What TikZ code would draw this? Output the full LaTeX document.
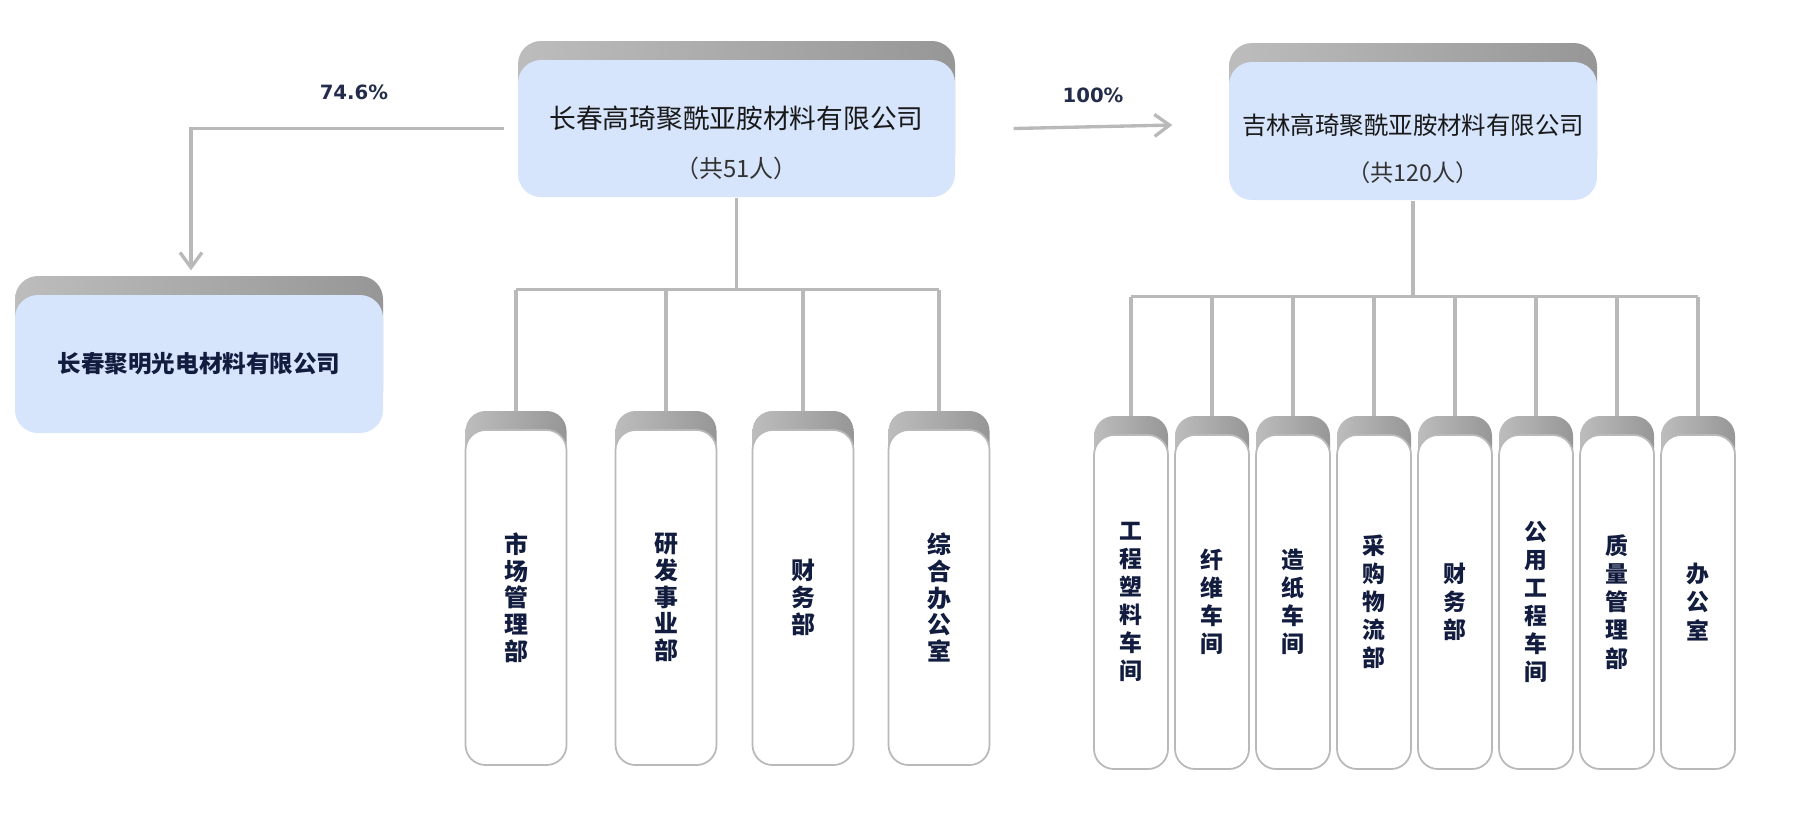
\documentclass[tikz,border=0pt]{standalone}
\usepackage{fontspec}
\setmainfont{Noto Sans CJK SC}
\newfontfamily\pctfont{DejaVu Sans}
\usepackage{xcolor}
\usepackage{tikz}
\usetikzlibrary{arrows.meta, positioning, shadows, backgrounds}

\definecolor{boxblue}{RGB}{214,228,252}
\definecolor{linegray}{RGB}{185,185,185}
\definecolor{inknavy}{RGB}{18,28,62}
\definecolor{pctnavy}{RGB}{35,45,75}

\begin{document}
\begin{tikzpicture}[
        lip/.style={general shadow={shadow yshift=0.19cm, left color=gray!52, middle color=gray!62, right color=gray!82}},
        topbox/.style={rectangle, rounded corners=0.23cm, fill=boxblue, lip, align=center, text=black!90},
        deptbox/.style={rectangle, rounded corners=0.2cm, draw=gray!55, line width=0.5pt, fill=white, lip, outer sep=0pt,
            minimum width=1.01cm, minimum height=3.35cm, align=center, text=inknavy,
            font=\bfseries\fontsize{6.8}{7.6}\selectfont},
        workbox/.style={deptbox, minimum width=0.74cm, minimum height=3.34cm,
            font=\bfseries\fontsize{6.5}{8}\selectfont},
        conn/.style={draw=linegray, line width=0.95pt},
        arr/.style={conn, -{Straight Barb[length=1.5mm, width=2.2mm]}},
        pct/.style={font=\pctfont\bfseries\fontsize{5.6}{6}\selectfont, text=pctnavy},
        node distance=0.07cm,
    ]
        \useasboundingbox (0,0) rectangle (18.13,-8.19);

        % companies
        \node[topbox, minimum width=4.37cm, minimum height=1.37cm, font=\fontsize{7.6}{14}\selectfont] (changchun) at (7.365,-1.285)
            {\rule{0pt}{0.52cm}长春高琦聚酰亚胺材料有限公司\\{\fontsize{6.8}{14}\selectfont\color{black!80}（共51人）}};
        \node[topbox, minimum width=3.68cm, minimum height=1.38cm, font=\fontsize{6.95}{13.4}\selectfont] (jilin) at (14.13,-1.31)
            {\rule{0pt}{0.555cm}吉林高琦聚酰亚胺材料有限公司\\{\fontsize{6.6}{13.4}\selectfont\color{black!80}（共120人）}};
        \node[topbox, minimum width=3.68cm, minimum height=1.38cm, text=inknavy, font=\bfseries\fontsize{6.7}{8}\selectfont] (juming) at (1.99,-3.64)
            {长春聚明光电材料有限公司};

        % departments of changchun
        \node[deptbox] (m1) at (5.16,-5.975) {市\\场\\管\\理\\部};
        \node[deptbox, right=0.49cm of m1] (m2) {研\\发\\事\\业\\部};
        \node[deptbox, right=0.36cm of m2] (m3) {财\\务\\部};
        \node[deptbox, right=0.35cm of m3] (m4) {综\\合\\办\\公\\室};

        % departments of jilin
        \node[workbox] (r1) at (11.31,-6.02) {工\\程\\塑\\料\\车\\间};
        \node[workbox, right=of r1] (r2) {纤\\维\\车\\间};
        \node[workbox, right=of r2] (r3) {造\\纸\\车\\间};
        \node[workbox, right=of r3] (r4) {采\\购\\物\\流\\部};
        \node[workbox, right=of r4] (r5) {财\\务\\部};
        \node[workbox, right=of r5] (r6) {公\\用\\工\\程\\车\\间};
        \node[workbox, right=of r6] (r7) {质\\量\\管\\理\\部};
        \node[workbox, right=of r7] (r8) {办\\公\\室};

        \draw[arr] ([xshift=-0.13cm]changchun.west) -| node[pct, pos=0.24, yshift=0.36cm]{74.6\%} ([xshift=-0.08cm, yshift=0.24cm]juming.north);
        \draw[arr] ([xshift=0.58cm]changchun.east) -- node[pct, yshift=0.31cm]{100\%} ([xshift=-0.56cm, yshift=0.06cm]jilin.west);

        \begin{scope}[on background layer]
            \path (changchun.south) ++(0,-0.92) coordinate (mbus);
            \path (jilin.south) ++(0,-0.96) coordinate (rbus);
            \draw[conn] (changchun.south) -- (mbus);
            \draw[conn] (mbus -| m1) -- (mbus -| m4);
            \foreach \d in {m1,m2,m3,m4}
                \draw[conn] (mbus -| \d) -- (\d.north);
            \draw[conn] (jilin.south) -- (rbus);
            \draw[conn] (rbus -| r1) -- (rbus -| r8);
            \foreach \d in {r1,r2,r3,r4,r5,r6,r7,r8}
                \draw[conn] (rbus -| \d) -- (\d.north);
        \end{scope}
    \end{tikzpicture}
\end{document}
